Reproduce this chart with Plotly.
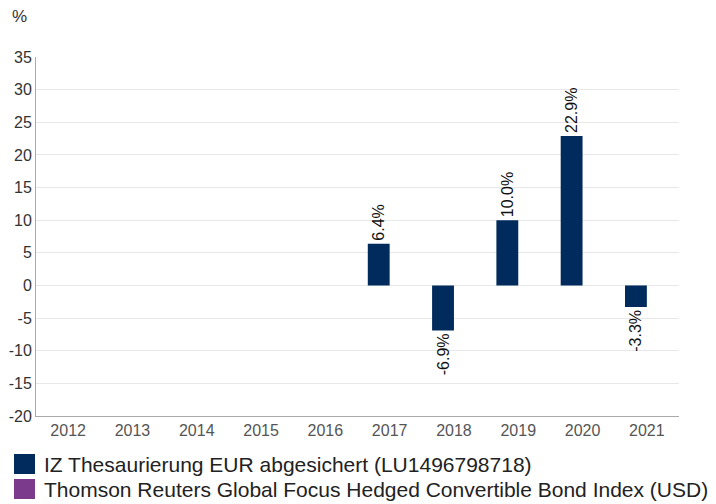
import plotly.graph_objects as go

years = ["2012", "2013", "2014", "2015", "2016", "2017", "2018", "2019", "2020", "2021"]
fund_values = [None, None, None, None, None, 6.4, -6.9, 10.0, 22.9, -3.3]
index_values = [None] * 10
series_names = [
    "IZ Thesaurierung EUR abgesichert (LU1496798718)",
    "Thomson Reuters Global Focus Hedged Convertible Bond Index (USD)",
]
series_colors = ["#002b5c", "#7b3a8c"]
y_ticks = [-20, -15, -10, -5, 0, 5, 10, 15, 20, 25, 30, 35]

font_family = "Liberation Sans, Arial, Helvetica, sans-serif"

fig = go.Figure()
for name, vals, col in zip(series_names, [fund_values, index_values], series_colors):
    fig.add_trace(go.Bar(
        x=years, y=vals, name=name, marker=dict(color=col, line=dict(width=0)),
        text=[None if v is None else f"{v:.1f}%" for v in vals],
        textposition="outside", textangle=-90, cliponaxis=False,
        textfont=dict(size=16, color="#111111", family=font_family),
        showlegend=False,
    ))

# page body has an 8px margin, so the figure is placed to compensate
fig.update_layout(
    width=716, height=496,
    margin=dict(l=28, r=45, t=49, b=88, autoexpand=False),
    paper_bgcolor="white", plot_bgcolor="white",
    barmode="group", bargap=0.32, bargroupgap=0,
    font=dict(family=font_family, color="#333333"),
    uniformtext=dict(minsize=16, mode="show"),
)
fig.update_xaxes(
    type="category", range=[-0.5, 9.5], showgrid=False, automargin=False,
    showline=True, linecolor="#aaaaaa", linewidth=1,
    ticks="", tickfont=dict(size=16, color="#555555"),
)
fig.update_yaxes(
    range=[-20, 35], tickvals=y_ticks, ticktext=[str(t) for t in y_ticks],
    showgrid=True, gridcolor="#e8e8e8", automargin=False,
    showline=True, linecolor="#aaaaaa", linewidth=1, zeroline=False,
    ticks="", tickfont=dict(size=16, color="#333333"),
)

fig.add_annotation(text="%", xref="paper", yref="paper", x=-0.0404, y=1.114,
                   xanchor="left", yanchor="middle", showarrow=False,
                   font=dict(size=17, color="#333333"))

# legend drawn below the plot
for i, (name, col) in enumerate(zip(series_names, series_colors)):
    top = -38 - i * 25
    fig.add_shape(type="rect", xref="paper", yref="paper",
                  xsizemode="pixel", ysizemode="pixel", xanchor=0, yanchor=0,
                  x0=-22, x1=-1, y0=top - 20, y1=top,
                  fillcolor=col, line=dict(width=0))
    fig.add_annotation(text=name, xref="paper", yref="paper",
                       x=0.0093, y=0, yshift=top - 10,
                       xanchor="left", yanchor="middle", showarrow=False,
                       font=dict(size=21, color="#222222"))

fig.write_html("out.html")
